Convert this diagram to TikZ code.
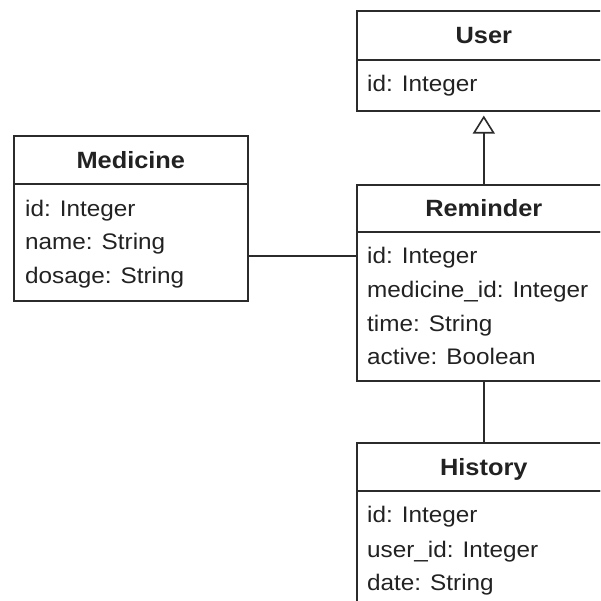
\documentclass[tikz,border=0pt]{standalone}
\usepackage{fontspec}
\setmainfont{Liberation Sans}[FakeStretch=1.08]
\usetikzlibrary{arrows.meta}
\definecolor{ink}{HTML}{2B2B2B}
\definecolor{txt}{HTML}{222222}
\begin{document}
\begin{tikzpicture}[x=1pt,y=-1pt,
  part/.style={draw=ink, line width=1.6pt, rectangle, anchor=north west, inner sep=0pt},
  head/.style={part, text=txt, font=\fontsize{23.5}{28}\selectfont\bfseries, text height=17pt, text depth=0pt},
  attr/.style={anchor=base west, inner sep=0pt, text=txt, font=\fontsize{22.5}{27}\selectfont},
  link/.style={draw=ink, line width=1.6pt}
]
\useasboundingbox (0,0) rectangle (600,601);
\fill[white] (0,0) rectangle (600,601);
\clip (0,0) rectangle (600,601);

% User
\node[head, minimum width=254pt, minimum height=49pt] (userH) at (356,10) {User};
\node[part, minimum width=254pt, minimum height=51pt] (userB) at (356,59) {};
\node[attr] (u1) at (367,92) {id: Integer};

% Medicine
\node[head, minimum width=234pt, minimum height=48pt] (medH) at (13,135) {Medicine};
\node[part, minimum width=234pt, minimum height=117pt] (medB) at (13,183) {};
\node[attr] (m1) at (25,217) {id: Integer};
\node[attr] (m2) at (25,250) {name: String};
\node[attr] (m3) at (25,283) {dosage: String};

% Reminder
\node[head, minimum width=254pt, minimum height=47pt] (remH) at (356,184) {Reminder};
\node[part, minimum width=254pt, minimum height=149pt] (remB) at (356,231) {};
\node[attr] (r1) at (367,263) {id: Integer};
\node[attr] (r2) at (367,297) {medicine\_id: Integer};
\node[attr] (r3) at (367,331) {time: String};
\node[attr] (r4) at (367,364) {active: Boolean};

% History
\node[head, minimum width=254pt, minimum height=48pt] (hisH) at (356,442) {History};
\node[part, minimum width=254pt, minimum height=140pt] (hisB) at (356,490) {};
\node[attr] (h1) at (367,522) {id: Integer};
\node[attr] (h2) at (367,557) {user\_id: Integer};
\node[attr] (h3) at (367,590) {date: String};

% Connectors
\draw[link, -{Triangle[open, length=18pt, width=22pt, line width=1.6pt]}, shorten >=4pt]
  (remH.north) -- (userB.south);
\draw[link] (medB.east |- 0,256) -- (remB.west |- 0,256);
\draw[link] (remB.south) -- (hisH.north);
\end{tikzpicture}
\end{document}
